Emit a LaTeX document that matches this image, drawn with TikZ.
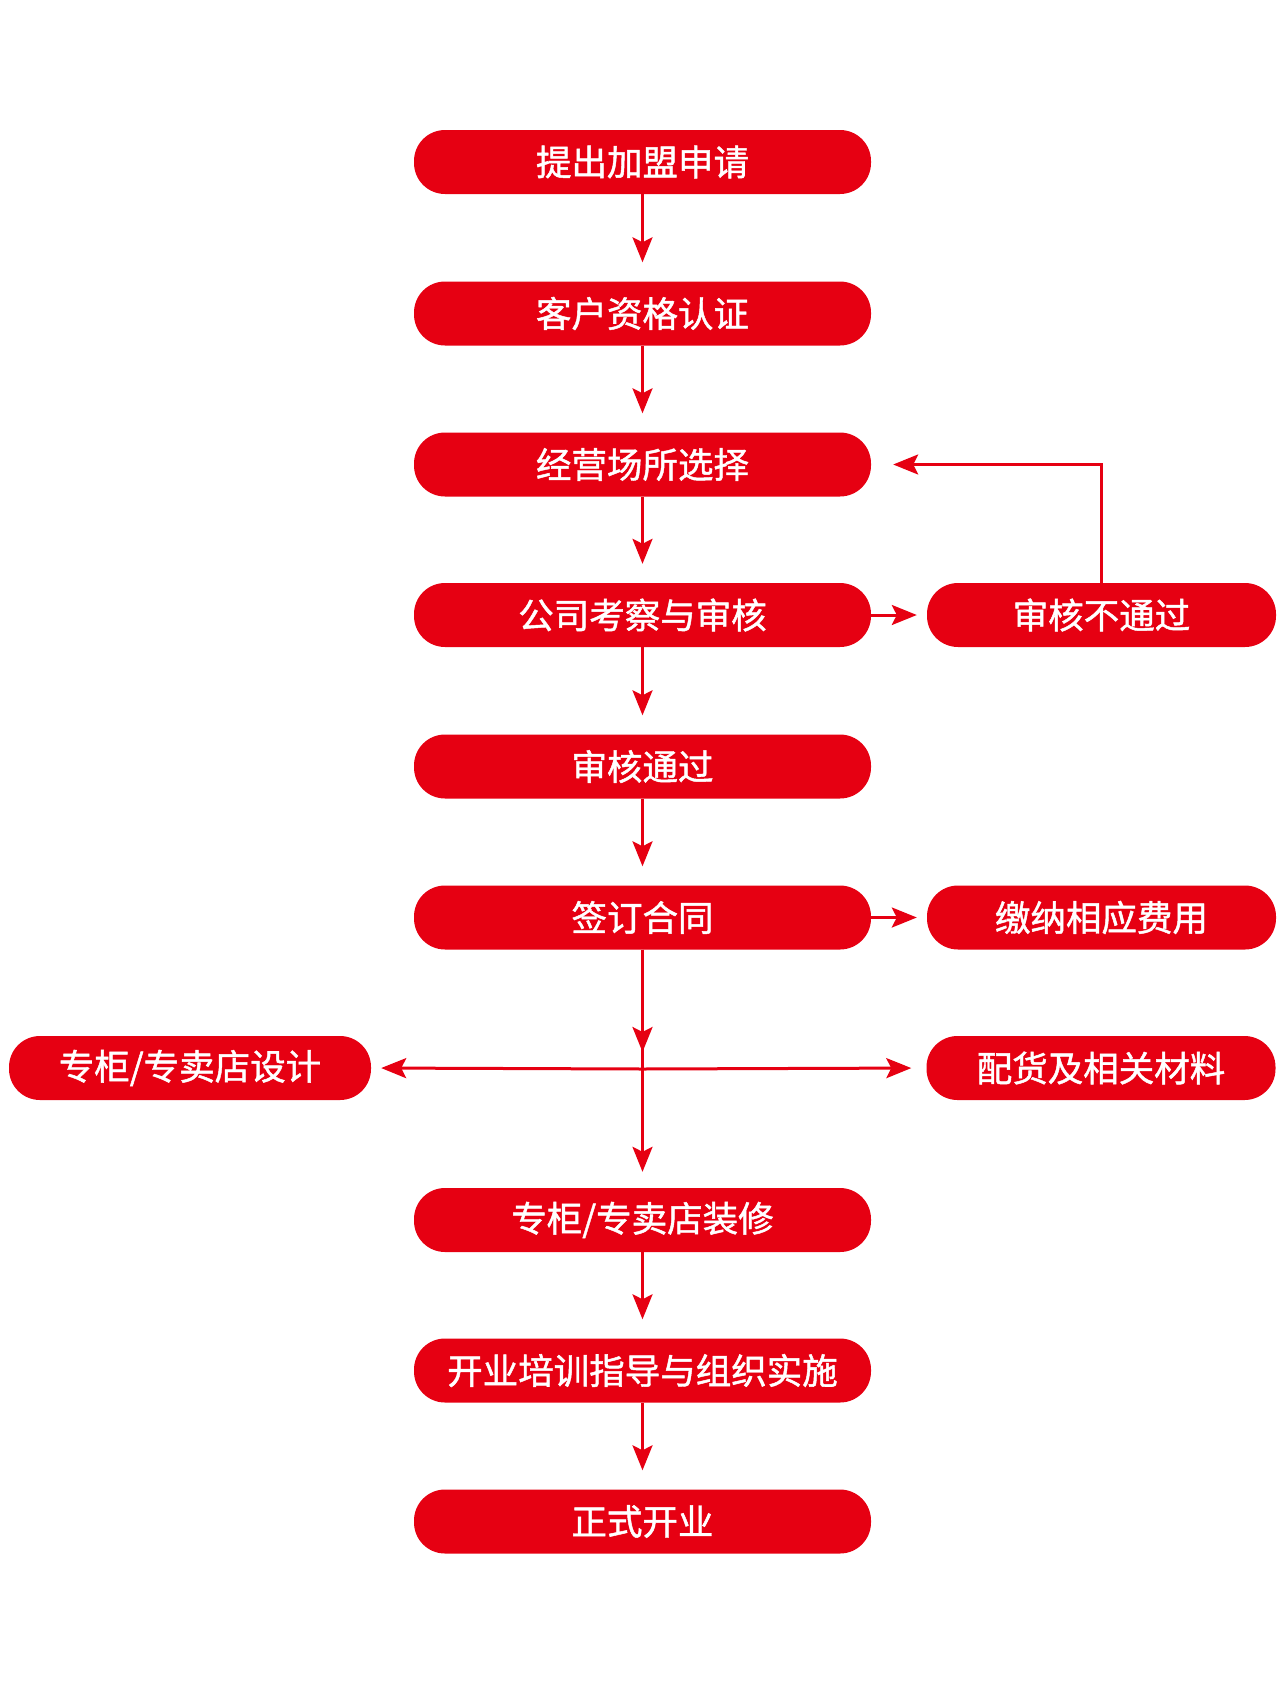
\documentclass[tikz,border=0pt]{standalone}
\usepackage{fontspec}
\setmainfont{Noto Sans CJK SC}
\newfontfamily\cjkmed{Noto Sans CJK SC}[FakeBold=1.3]
\usetikzlibrary{arrows.meta}
\definecolor{brandred}{HTML}{E60012}
\begin{document}
\begin{tikzpicture}[x=1pt,y=-1pt,
  pill/.style={fill=brandred, rounded corners=31pt, minimum height=64pt, text=white,
    font=\cjkmed\fontsize{35.5}{40}\selectfont, inner sep=0pt},
  mainpill/.style={pill, minimum width=457pt},
  sidepill/.style={pill, minimum width=349pt},
  plainline/.style={draw=brandred, line width=3pt},
  conn/.style={plainline, -{Stealth[length=25pt,width=20pt,inset=5pt]}}]
\useasboundingbox (0,0) rectangle (1280,1681);
\node[mainpill] (n1) at (642.5,162) {提出加盟申请};
\node[mainpill] (n2) at (642.5,313.5) {客户资格认证};
\node[mainpill] (n3) at (642.5,464.5) {经营场所选择};
\node[mainpill] (n4) at (642.5,615) {公司考察与审核};
\node[mainpill] (n5) at (642.5,766.5) {审核通过};
\node[mainpill] (n6) at (642.5,917.5) {签订合同};
\node[mainpill] (n8) at (642.5,1220) {专柜/专卖店装修};
\node[mainpill] (n9) at (642.5,1370.5) {开业培训指导与组织实施};
\node[mainpill] (n10) at (642.5,1521.5) {正式开业};
\node[sidepill] (f1) at (1101.5,615) {审核不通过};
\node[sidepill] (f2) at (1101.5,917.5) {缴纳相应费用};
\node[sidepill] (sR) at (1101,1068) {配货及相关材料};
\node[pill, minimum width=362pt] (sL) at (190,1068) {专柜/专卖店设计};
\coordinate (j) at (642.5,1069);
\draw[conn, shorten >=19pt] (n1.south) -- (n2.north);
\draw[conn, shorten >=19pt] (n2.south) -- (n3.north);
\draw[conn, shorten >=19pt] (n3.south) -- (n4.north);
\draw[conn, shorten >=19pt] (n4.south) -- (n5.north);
\draw[conn, shorten >=19pt] (n5.south) -- (n6.north);
\draw[conn, shorten >=19pt] (n8.south) -- (n9.north);
\draw[conn, shorten >=19pt] (n9.south) -- (n10.north);
\draw[conn, shorten >=10pt] (n4.east) -- (f1.west);
\draw[conn, shorten >=10pt] (n6.east) -- (f2.west);
\draw[conn, shorten >=22pt] (f1.north) |- (n3.east);
\draw[plainline] (n6.south) -- (j);
\draw[conn, shorten >=17pt] (n6.south) -- (j);
\draw[conn, shorten >=16pt] (j) -- (n8.north);
\draw[conn, shorten >=10pt] (j) -- (sL.east);
\draw[conn, shorten >=15pt] (j) -- (sR.west);
\end{tikzpicture}
\end{document}
